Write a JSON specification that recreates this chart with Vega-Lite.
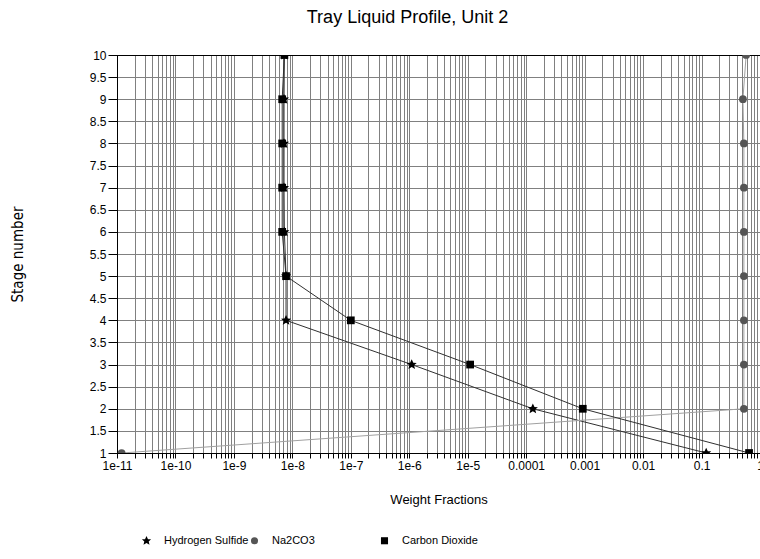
{
  "$schema": "https://vega.github.io/schema/vega-lite/v6.json",
  "width": 643,
  "height": 398,
  "autosize": {"type": "none"},
  "padding": {"left": 117, "top": 55, "right": 0, "bottom": 106},
  "background": "white",
  "title": {"text": "Tray Liquid Profile, Unit 2", "fontSize": 18, "fontWeight": "normal", "font": "Liberation Sans", "color": "black", "offset": 22, "dx": -31},
  "config": {
    "font": "Liberation Sans",
    "view": {"stroke": "black"}
  },
  "data": {"values": [
    {"series": "Hydrogen Sulfide", "stage": 1, "wf": 0.12},
    {"series": "Hydrogen Sulfide", "stage": 2, "wf": 1.3e-4},
    {"series": "Hydrogen Sulfide", "stage": 3, "wf": 1.1e-6},
    {"series": "Hydrogen Sulfide", "stage": 4, "wf": 7.8e-9},
    {"series": "Hydrogen Sulfide", "stage": 5, "wf": 7.8e-9},
    {"series": "Hydrogen Sulfide", "stage": 6, "wf": 7.3e-9},
    {"series": "Hydrogen Sulfide", "stage": 7, "wf": 7.2e-9},
    {"series": "Hydrogen Sulfide", "stage": 8, "wf": 7.2e-9},
    {"series": "Hydrogen Sulfide", "stage": 9, "wf": 7.2e-9},
    {"series": "Hydrogen Sulfide", "stage": 10, "wf": 7.3e-9},
    {"series": "Na2CO3", "stage": 1, "wf": 1.2e-11},
    {"series": "Na2CO3", "stage": 2, "wf": 0.53},
    {"series": "Na2CO3", "stage": 3, "wf": 0.53},
    {"series": "Na2CO3", "stage": 4, "wf": 0.53},
    {"series": "Na2CO3", "stage": 5, "wf": 0.53},
    {"series": "Na2CO3", "stage": 6, "wf": 0.53},
    {"series": "Na2CO3", "stage": 7, "wf": 0.53},
    {"series": "Na2CO3", "stage": 8, "wf": 0.53},
    {"series": "Na2CO3", "stage": 9, "wf": 0.51},
    {"series": "Na2CO3", "stage": 10, "wf": 0.58},
    {"series": "Carbon Dioxide", "stage": 1, "wf": 0.65},
    {"series": "Carbon Dioxide", "stage": 2, "wf": 9.3e-4},
    {"series": "Carbon Dioxide", "stage": 3, "wf": 1.1e-5},
    {"series": "Carbon Dioxide", "stage": 4, "wf": 1.0e-7},
    {"series": "Carbon Dioxide", "stage": 5, "wf": 7.8e-9},
    {"series": "Carbon Dioxide", "stage": 6, "wf": 6.7e-9},
    {"series": "Carbon Dioxide", "stage": 7, "wf": 6.7e-9},
    {"series": "Carbon Dioxide", "stage": 8, "wf": 6.7e-9},
    {"series": "Carbon Dioxide", "stage": 9, "wf": 6.7e-9},
    {"series": "Carbon Dioxide", "stage": 10, "wf": 7.3e-9}
  ]},
  "encoding": {
    "x": {
      "field": "wf", "type": "quantitative",
      "scale": {"type": "log", "domain": [1e-11, 1], "nice": false},
      "axis": {
        "values": [1e-11,2e-11,3e-11,4e-11,5e-11,6e-11,7e-11,8e-11,9e-11,
                   1e-10,2e-10,3e-10,4e-10,5e-10,6e-10,7e-10,8e-10,9e-10,
                   1e-9,2e-9,3e-9,4e-9,5e-9,6e-9,7e-9,8e-9,9e-9,
                   1e-8,2e-8,3e-8,4e-8,5e-8,6e-8,7e-8,8e-8,9e-8,
                   1e-7,2e-7,3e-7,4e-7,5e-7,6e-7,7e-7,8e-7,9e-7,
                   1e-6,2e-6,3e-6,4e-6,5e-6,6e-6,7e-6,8e-6,9e-6,
                   1e-5,2e-5,3e-5,4e-5,5e-5,6e-5,7e-5,8e-5,9e-5,
                   1e-4,2e-4,3e-4,4e-4,5e-4,6e-4,7e-4,8e-4,9e-4,
                   0.001,0.002,0.003,0.004,0.005,0.006,0.007,0.008,0.009,
                   0.01,0.02,0.03,0.04,0.05,0.06,0.07,0.08,0.09,
                   0.1,0.2,0.3,0.4,0.5,0.6,0.7,0.8,0.9,1],
        "labelExpr": "abs(datum.value / pow(10, round(log(datum.value) / LN10)) - 1) < 1e-6 ? (round(log(datum.value) / LN10) == 0 ? '1' : (round(log(datum.value) / LN10) >= -4 ? format(datum.value, '.' + (-round(log(datum.value) / LN10)) + 'f') : '1e' + round(log(datum.value) / LN10))) : ''",
        "title": "Weight Fractions",
        "titleFontSize": 13, "titleFontWeight": "normal", "titleColor": "black", "titlePadding": 22,
        "labelFontSize": 12, "labelColor": "black", "labelPadding": 2, "labelOverlap": false, "labelFlush": false, "labelBound": false,
        "tickSize": 5, "tickColor": "black", "domainColor": "black",
        "grid": true,
        "gridColor": {"condition": {"test": "datum.value < 1.01e-11", "value": "black"}, "value": "#808080"}
      }
    },
    "y": {
      "field": "stage", "type": "quantitative",
      "scale": {"domain": [1, 10], "nice": false, "zero": false},
      "axis": {
        "values": [1,1.5,2,2.5,3,3.5,4,4.5,5,5.5,6,6.5,7,7.5,8,8.5,9,9.5,10],
        "tickCount": 19,
        "labelExpr": "'' + datum.value",
        "title": "Stage number",
        "titleFont": "Liberation Sans Narrow, DejaVu Sans Condensed, Liberation Sans",
        "titleFontSize": 15, "titleFontWeight": "normal", "titleColor": "black", "titlePadding": 64,
        "labelFontSize": 12, "labelColor": "black", "labelPadding": 2, "labelOverlap": false,
        "tickSize": 9, "tickColor": "black", "domainColor": "black",
        "grid": true,
        "gridColor": {"condition": {"test": "datum.value == 1 || datum.value == 10", "value": "black"}, "value": "#808080"}
      }
    }
  },
  "layer": [
    {
      "mark": {"type": "line", "clip": true, "strokeWidth": 1},
      "encoding": {
        "detail": {"field": "series", "type": "nominal"},
        "stroke": {
          "condition": {"test": "datum.series == 'Na2CO3'", "value": "#a0a0a0"},
          "value": "#303030"
        },
        "order": {"field": "stage", "type": "quantitative"}
      }
    },
    {
      "mark": {"type": "point", "filled": true, "clip": true, "size": 60, "opacity": 1},
      "encoding": {
        "color": {
          "field": "series", "type": "nominal",
          "scale": {"domain": ["Hydrogen Sulfide", "Na2CO3", "Carbon Dioxide"], "range": ["#000000", "#555555", "#000000"]},
          "legend": {"orient": "bottom", "direction": "horizontal", "title": null, "labelFontSize": 11, "labelColor": "black", "symbolSize": 50, "labelOffset": 12, "columnPadding": 0, "offset": 5, "padding": 24,
                     "labelExpr": "datum.label == 'Na2CO3' ? 'Na2CO3\u00a0\u00a0\u00a0\u00a0\u00a0\u00a0\u00a0\u00a0\u00a0\u00a0\u00a0\u00a0\u00a0\u00a0\u00a0\u00a0\u00a0\u00a0\u00a0\u00a0\u00a0\u200b' : datum.label"}
        },
        "shape": {
          "field": "series", "type": "nominal",
          "scale": {"domain": ["Hydrogen Sulfide", "Na2CO3", "Carbon Dioxide"], "range": ["M0,-1.35L0.42,-0.45L1.3,-0.42L0.62,0.2L0.85,1.15L0,0.62L-0.85,1.15L-0.62,0.2L-1.3,-0.42L-0.42,-0.45Z", "circle", "square"]},
          "legend": {"orient": "bottom", "direction": "horizontal", "title": null, "labelFontSize": 11, "labelColor": "black", "symbolSize": 50, "labelOffset": 12, "columnPadding": 0, "offset": 5, "padding": 24,
                     "labelExpr": "datum.label == 'Na2CO3' ? 'Na2CO3\u00a0\u00a0\u00a0\u00a0\u00a0\u00a0\u00a0\u00a0\u00a0\u00a0\u00a0\u00a0\u00a0\u00a0\u00a0\u00a0\u00a0\u00a0\u00a0\u00a0\u00a0\u200b' : datum.label"}
        }
      }
    }
  ]
}
